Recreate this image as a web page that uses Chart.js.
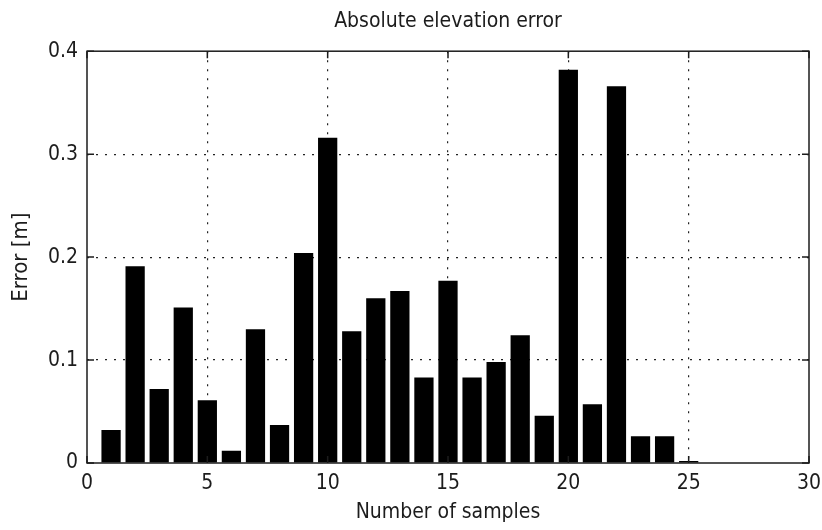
<!DOCTYPE html>
<html>
<head>
<meta charset="utf-8">
<title>Absolute elevation error</title>
<script src="https://cdn.jsdelivr.net/npm/chart.js@4.4.1/dist/chart.umd.min.js"></script>
<style>
    html, body { margin: 0; padding: 0; background: #fff; }
    #wrap { width: 822px; height: 530px; position: relative; }
</style>
</head>
<body>
<div id="wrap"><canvas id="error-chart"></canvas></div>
<script>
'use strict';

// Data
const samples = [1, 2, 3, 4, 5, 6, 7, 8, 9, 10, 11, 12, 13, 14, 15, 16, 17, 18, 19, 20, 21, 22, 23, 24, 25];
const errors = [0.032, 0.191, 0.072, 0.151, 0.061, 0.012, 0.130, 0.037, 0.204, 0.316,
                0.128, 0.160, 0.167, 0.083, 0.177, 0.083, 0.098, 0.124, 0.046, 0.382,
                0.057, 0.366, 0.026, 0.026, 0.002];
const xTicks = [0, 5, 10, 15, 20, 25, 30];
const yTicks = [0, 0.1, 0.2, 0.3, 0.4];

const FONT = "'Liberation Sans Narrow', 'DejaVu Sans Condensed', 'Liberation Sans', sans-serif";
const INK = '#1c1c1c';

// MATLAB style box with inward tick marks
const boxPlugin = {
    id: 'matlabBox',
    afterDatasetsDraw(chart) {
        const {ctx, chartArea: a, scales} = chart;
        const len = 7;
        ctx.save();
        ctx.strokeStyle = INK;
        ctx.lineWidth = 1.5;
        ctx.strokeRect(a.left, a.top, a.right - a.left, a.bottom - a.top);
        ctx.beginPath();
        xTicks.forEach(function(v) {
            const px = scales.x.getPixelForValue(v);
            ctx.moveTo(px, a.bottom); ctx.lineTo(px, a.bottom - len);
            ctx.moveTo(px, a.top); ctx.lineTo(px, a.top + len);
        });
        yTicks.forEach(function(v) {
            const py = scales.y.getPixelForValue(v);
            ctx.moveTo(a.left, py); ctx.lineTo(a.left + len, py);
            ctx.moveTo(a.right, py); ctx.lineTo(a.right - len, py);
        });
        ctx.stroke();
        ctx.restore();
    }
};

// hide grid lines that sit on the box edges
function edgeColor(limits) {
    return function(context) {
        const v = context.tick ? context.tick.value : null;
        return limits.indexOf(v) >= 0 ? 'rgba(0,0,0,0)' : '#222';
    };
}

function createChart() {
    const ctx = document.getElementById('error-chart');

    new Chart(ctx, {
        type: 'bar',
        data: {
            datasets: [{
                label: 'Absolute elevation error',
                data: samples.map((s, i) => ({x: s, y: errors[i]})),
                backgroundColor: '#000',
                borderWidth: 0,
                barPercentage: 0.8,
                categoryPercentage: 1.0
            }]
        },
        options: {
            responsive: true,
            maintainAspectRatio: false,
            animation: false,
            layout: { padding: 0 },
            plugins: {
                legend: { display: false },
                tooltip: { enabled: false },
                title: {
                    display: true,
                    fullSize: false,
                    text: 'Absolute elevation error',
                    color: INK,
                    font: { family: FONT, size: 21, weight: 'normal' },
                    padding: { top: 9, bottom: 17 }
                }
            },
            scales: {
                x: {
                    type: 'linear',
                    min: 0,
                    max: 30,
                    offset: false,
                    afterBuildTicks: function(scale) {
                        scale.ticks = xTicks.map(v => ({value: v}));
                    },
                    afterFit: function(scale) {
                        scale.height = 67;
                        scale.paddingLeft = 0;
                        scale.paddingRight = 13;
                    },
                    border: { display: false, dash: [2, 7] },
                    grid: {
                        offset: false,
                        drawTicks: false,
                        color: edgeColor([0, 30]),
                        lineWidth: 1.2
                    },
                    ticks: {
                        color: INK,
                        padding: 8,
                        maxRotation: 0,
                        font: { family: FONT, size: 21 },
                        callback: function(value) { return String(value); }
                    },
                    title: {
                        display: true,
                        text: 'Number of samples',
                        color: INK,
                        font: { family: FONT, size: 21 },
                        padding: { top: 0, bottom: 5 }
                    }
                },
                y: {
                    type: 'linear',
                    min: 0,
                    max: 0.4,
                    afterBuildTicks: function(scale) {
                        scale.ticks = yTicks.map(v => ({value: v}));
                    },
                    afterFit: function(scale) {
                        scale.width = 87;
                        scale.paddingTop = 0;
                        scale.paddingBottom = 0;
                    },
                    border: { display: false, dash: [2, 7] },
                    grid: {
                        drawTicks: false,
                        color: edgeColor([0, 0.4]),
                        lineWidth: 1.2
                    },
                    ticks: {
                        color: INK,
                        padding: 9,
                        font: { family: FONT, size: 21 },
                        callback: function(value) { return String(value); }
                    },
                    title: {
                        display: true,
                        text: 'Error [m]',
                        color: INK,
                        font: { family: FONT, size: 22 },
                        padding: { top: 8, bottom: 0 }
                    }
                }
            }
        },
        plugins: [boxPlugin]
    });
}

createChart();
</script>
</body>
</html>
